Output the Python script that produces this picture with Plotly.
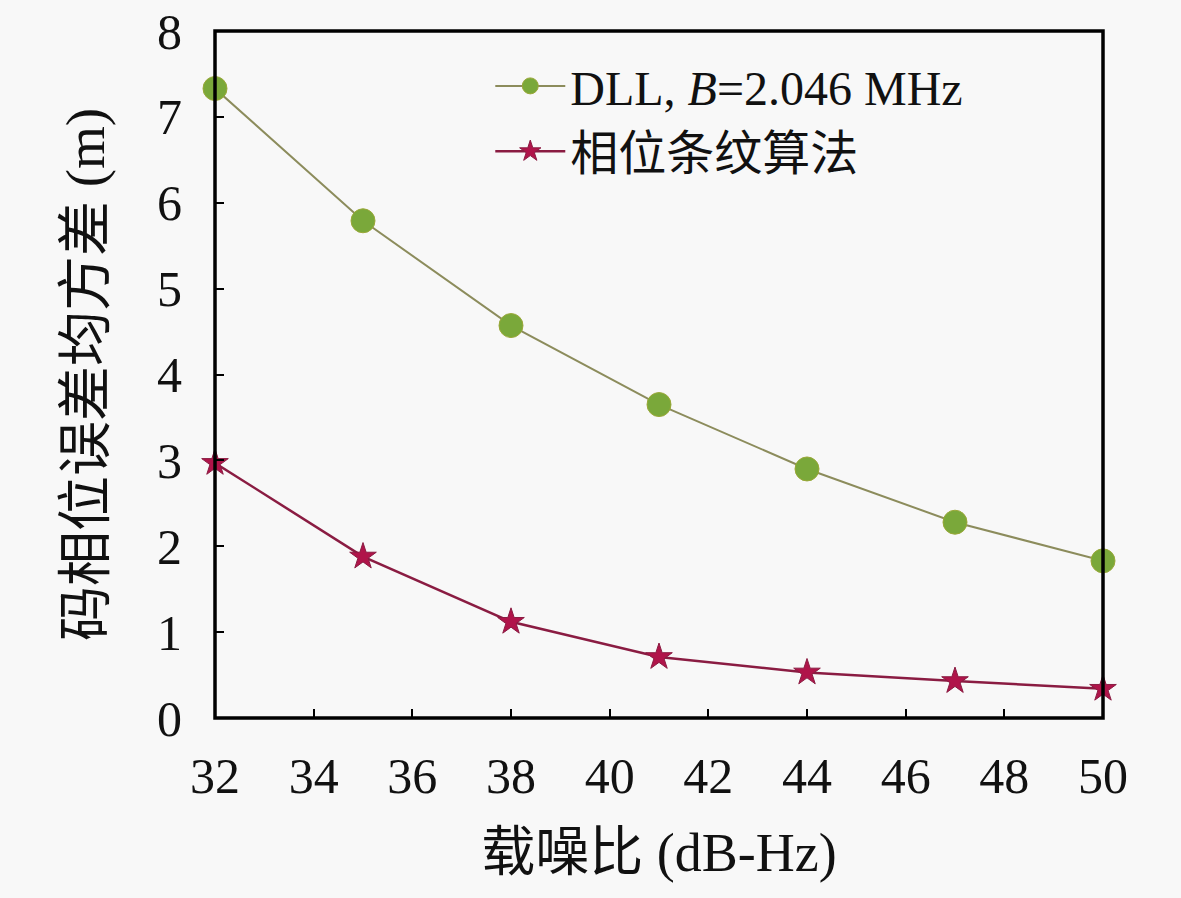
import plotly.graph_objects as go

# carrier-to-noise ratio (dB-Hz)
cn0 = [32, 35, 38, 41, 44, 47, 50]
# code phase error std (m)
dll_err = [7.33, 5.79, 4.57, 3.65, 2.90, 2.28, 1.83]
fringe_err = [2.97, 1.88, 1.12, 0.71, 0.53, 0.43, 0.34]

font_fam = "Liberation Serif, Noto Sans CJK SC"

fig = go.Figure()
fig.add_trace(go.Scatter(
    x=cn0, y=dll_err, mode="lines+markers",
    name="DLL, <i>B</i>=2.046 MHz",
    line=dict(color="#8c8c5c", width=2),
    marker=dict(symbol="circle", size=24, color="#7aa83a",
                line=dict(color="#9aa838", width=1)),
    cliponaxis=False,
))
fig.add_trace(go.Scatter(
    x=cn0, y=fringe_err, mode="lines+markers",
    name="相位条纹算法",
    line=dict(color="#8a1c42", width=2.5),
    marker=dict(symbol="star", size=20, color="#b0144a",
                line=dict(color="#8a1c42", width=1)),
    cliponaxis=False,
))

# frame around the plot area
fig.add_shape(type="rect", xref="paper", yref="paper", x0=0, y0=0, x1=1, y1=1,
              line=dict(color="black", width=3.5), layer="above")

fig.update_layout(
    width=1181, height=898,
    paper_bgcolor="#f8f8f8", plot_bgcolor="#f8f8f8",
    margin=dict(l=215, r=78, t=31, b=180),
    font=dict(family=font_fam, size=46, color="#111"),
    showlegend=True,
    legend=dict(x=0.31, y=0.975, xanchor="left", yanchor="top",
                bgcolor="rgba(0,0,0,0)", font=dict(size=48),
                itemwidth=70, tracegroupgap=0),
)
fig.update_xaxes(
    range=[32, 50], dtick=2, tick0=32, automargin=False,
    showline=False,
    ticks="inside", ticklen=9, tickwidth=2, tickcolor="black",
    showgrid=False, zeroline=False,
    tickfont=dict(size=50), ticklabelstandoff=24,
    title=dict(text="载噪比 (dB-Hz)", font=dict(size=54), standoff=30),
)
fig.update_yaxes(
    range=[0, 8], dtick=1, automargin=False,
    showline=False,
    ticks="inside", ticklen=9, tickwidth=2, tickcolor="black",
    showgrid=False, zeroline=False,
    tickfont=dict(size=50), ticklabelstandoff=32,
    title=dict(text="码相位误差均方差 (m)", font=dict(size=55), standoff=34),
)

fig.write_html("out.html", config={"displayModeBar": False},
               post_script="document.body.style.margin='0';")
